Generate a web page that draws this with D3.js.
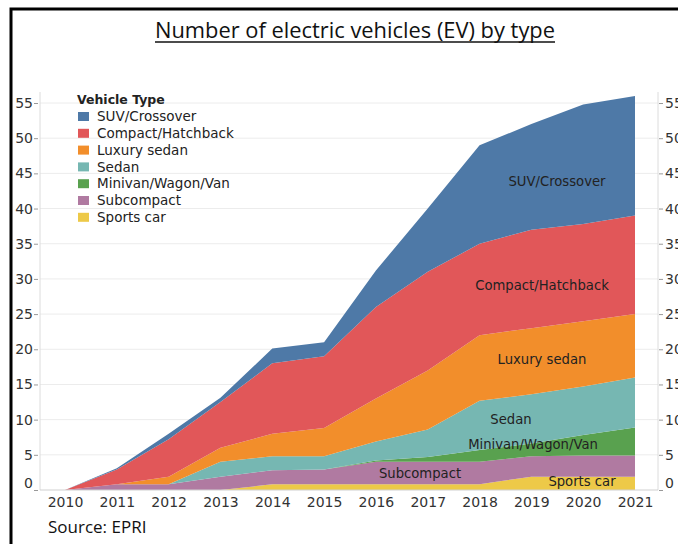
<!DOCTYPE html>
<html>
<head>
<meta charset="utf-8">
<script src="https://cdn.jsdelivr.net/npm/d3@7"></script>
<style>
  html, body { margin: 0; padding: 0; background: #fff; }
  svg { display: block; }
</style>
</head>
<body>
<svg id="chart" width="678" height="544"></svg>
<script>
// ---- data ----
const years = [2010, 2011, 2012, 2013, 2014, 2015, 2016, 2017, 2018, 2019, 2020, 2021];
const sportsCar   = [0, 0,   0,   0,   0.8, 0.8, 0.8, 0.8, 0.8, 1.9, 1.9, 1.9];
const subcompact  = [0, 0.8, 0.8, 1.9, 2.0, 2.1, 3.2, 3.2, 3.2, 2.9, 3.0, 3.0];
const minivan     = [0, 0,   0,   0,   0,   0,   0.2, 0.7, 1.7, 1.8, 2.9, 4.0];
const sedan       = [0, 0,   0,   2.1, 2.0, 1.9, 2.7, 3.9, 7.0, 7.0, 6.9, 7.1];
const luxurySedan = [0, 0,   1.1, 2.0, 3.2, 4.0, 6.1, 8.4, 9.3, 9.4, 9.3, 9.0];
const compact     = [0, 2.1, 5.3, 6.5, 10.0, 10.2, 13.0, 14.0, 13.0, 14.0, 13.8, 14.0];
const suv         = [0, 0.2, 0.8, 0.6, 2.1, 2.0, 5.2, 9.0, 14.0, 15.0, 17.0, 17.0];
const yTicks = [0, 5, 10, 15, 20, 25, 30, 35, 40, 45, 50, 55];

// stacking order (bottom -> top)
const seriesNames = ["Sports car", "Subcompact", "Minivan/Wagon/Van", "Sedan", "Luxury sedan", "Compact/Hatchback", "SUV/Crossover"];
const seriesValues = [sportsCar, subcompact, minivan, sedan, luxurySedan, compact, suv];
const colors = ["#edc948", "#b07aa1", "#59a14f", "#76b7b2", "#f28e2b", "#e15759", "#4e79a7"];
// legend order (top -> bottom)
const legendOrder = ["SUV/Crossover", "Compact/Hatchback", "Luxury sedan", "Sedan", "Minivan/Wagon/Van", "Subcompact", "Sports car"];

const rows = years.map((yr, i) => {
  const r = { year: yr };
  seriesNames.forEach((n, k) => r[n] = seriesValues[k][i]);
  return r;
});
const colorOf = d3.scaleOrdinal().domain(seriesNames).range(colors);

// ---- layout ----
const svg = d3.select("#chart");
const plotLeft = 40, plotRight = 658;
const x = d3.scaleLinear().domain([2010, 2021]).range([65, 635]);
const y = d3.scaleLinear().domain([0, 55]).range([490, 103]);

const tickFont = "'DejaVu Sans', Verdana, sans-serif";

// frame
svg.append("path")
  .attr("d", "M11,544 L11,9 L678,9")
  .attr("fill", "none").attr("stroke", "#000").attr("stroke-width", 3);

// title
svg.append("text")
  .attr("x", 155).attr("y", 38)
  .attr("font-family", "'Open Sans', 'Noto Sans', sans-serif")
  .attr("font-size", 21)
  .attr("textLength", 400).attr("lengthAdjust", "spacingAndGlyphs")
  .attr("fill", "#111")
  .text("Number of electric vehicles (EV) by type");
svg.append("line")
  .attr("x1", 155).attr("x2", 555).attr("y1", 42).attr("y2", 42)
  .attr("stroke", "#111").attr("stroke-width", 1.3);

// gridlines
svg.append("g").selectAll("line").data(yTicks.filter(t => t > 0)).join("line")
  .attr("x1", plotLeft).attr("x2", plotRight)
  .attr("y1", d => y(d)).attr("y2", d => y(d))
  .attr("stroke", "#ececec").attr("stroke-width", 1);

// vertical axis lines
svg.append("line").attr("x1", plotLeft).attr("x2", plotLeft).attr("y1", 92).attr("y2", y(0))
  .attr("stroke", "#dcdcdc");
svg.append("line").attr("x1", plotRight).attr("x2", plotRight).attr("y1", 92).attr("y2", y(0))
  .attr("stroke", "#dcdcdc");

// stacked areas
const stack = d3.stack().keys(seriesNames);
const layers = stack(rows);
const area = d3.area()
  .x(d => x(d.data.year))
  .y0(d => y(d[0]))
  .y1(d => y(d[1]))
  .curve(d3.curveLinear);
svg.append("g").selectAll("path").data(layers).join("path")
  .attr("d", area)
  .attr("fill", d => colorOf(d.key));

svg.append("line").attr("x1", plotLeft).attr("x2", plotRight).attr("y1", y(0)).attr("y2", y(0))
  .attr("stroke", "#d0d0d0");

// axes
function styleAxis(g) {
  g.select(".domain").remove();
  g.selectAll(".tick line").attr("stroke", "#999");
  g.selectAll(".tick text")
    .attr("font-family", tickFont).attr("font-size", 14).attr("fill", "#333");
  g.selectAll(".tick").filter(d => d === 0).select("text").attr("dy", "-0.2em");
}
svg.append("g").attr("transform", `translate(${plotLeft - 2},0)`)
  .call(d3.axisLeft(y).tickValues(yTicks).tickSize(4).tickPadding(1))
  .call(styleAxis);
svg.append("g").attr("transform", `translate(${plotRight + 1},0)`)
  .call(d3.axisRight(y).tickValues(yTicks).tickSize(4).tickPadding(2))
  .call(styleAxis)
  .call(g => g.selectAll(".tick text").attr("text-anchor", "start"));

const xAxis = svg.append("g").attr("transform", `translate(0,${y(0)})`)
  .call(d3.axisBottom(x).tickValues(years).tickFormat(d3.format("d")).tickSize(0).tickPadding(7));
xAxis.select(".domain").remove();
xAxis.selectAll(".tick text")
  .attr("font-family", tickFont).attr("font-size", 14).attr("fill", "#333");

// in-area labels
const areaLabels = [
  { name: "SUV/Crossover", x: 557, y: 181 },
  { name: "Compact/Hatchback", x: 542, y: 285 },
  { name: "Luxury sedan", x: 542, y: 359 },
  { name: "Sedan", x: 511, y: 419 },
  { name: "Minivan/Wagon/Van", x: 533, y: 444 },
  { name: "Subcompact", x: 420, y: 473 },
  { name: "Sports car", x: 582, y: 481 }
];
svg.append("g").selectAll("text").data(areaLabels).join("text")
  .attr("x", d => d.x).attr("y", d => d.y).attr("dy", "0.35em")
  .attr("text-anchor", "middle")
  .attr("font-family", tickFont).attr("font-size", 13.2)
  .attr("fill", "#222")
  .text(d => d.name);

// legend
const legend = svg.append("g");
legend.append("text")
  .attr("x", 77).attr("y", 100).attr("dy", "0.35em")
  .attr("font-family", tickFont).attr("font-size", 12.5).attr("font-weight", "bold")
  .attr("fill", "#222")
  .text("Vehicle Type");
const li = legend.selectAll("g.item").data(legendOrder).join("g")
  .attr("class", "item")
  .attr("transform", (d, i) => `translate(78,${116.5 + i * 16.8})`);
li.append("rect").attr("x", 0).attr("y", -4.5).attr("width", 11).attr("height", 9)
  .attr("fill", d => colorOf(d));
li.append("text").attr("x", 19).attr("y", 0).attr("dy", "0.35em")
  .attr("font-family", tickFont).attr("font-size", 13.5).attr("fill", "#222")
  .text(d => d);

// source
svg.append("text")
  .attr("x", 48).attr("y", 533)
  .attr("font-family", "'Open Sans', 'Noto Sans', sans-serif")
  .attr("font-size", 17).attr("fill", "#111")
  .text("Source: EPRI");
</script>
</body>
</html>
